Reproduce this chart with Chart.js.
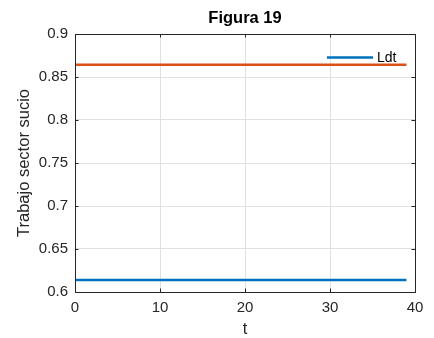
<!DOCTYPE html>
<html>
<head>
<meta charset="utf-8">
<title>Figura 19</title>
<script src="https://cdn.jsdelivr.net/npm/chart.js@4.4.1/dist/chart.umd.min.js"></script>
<style>
  html, body { margin: 0; padding: 0; background: #ffffff; }
  #wrap { width: 434px; height: 338px; }
</style>
</head>
<body>
<div id="wrap"><canvas id="fig" width="434" height="338"></canvas></div>
<script>
// Time steps
const t = [0, 1, 2, 3, 4, 5, 6, 7, 8, 9, 10, 11, 12, 13, 14, 15, 16, 17, 18, 19,
           20, 21, 22, 23, 24, 25, 26, 27, 28, 29, 30, 31, 32, 33, 34, 35, 36, 37, 38, 39];

// Labour in the dirty sector (Ldt)
const ldt = [0.614, 0.614, 0.614, 0.614, 0.614, 0.614, 0.614, 0.614, 0.614, 0.614,
             0.614, 0.614, 0.614, 0.614, 0.614, 0.614, 0.614, 0.614, 0.614, 0.614,
             0.614, 0.614, 0.614, 0.614, 0.614, 0.614, 0.614, 0.614, 0.614, 0.614,
             0.614, 0.614, 0.614, 0.614, 0.614, 0.614, 0.614, 0.614, 0.614, 0.614];

// Second series (no legend entry)
const serie2 = [0.8643, 0.8643, 0.8643, 0.8643, 0.8643, 0.8643, 0.8643, 0.8643, 0.8643, 0.8643,
                0.8643, 0.8643, 0.8643, 0.8643, 0.8643, 0.8643, 0.8643, 0.8643, 0.8643, 0.8643,
                0.8643, 0.8643, 0.8643, 0.8643, 0.8643, 0.8643, 0.8643, 0.8643, 0.8643, 0.8643,
                0.8643, 0.8643, 0.8643, 0.8643, 0.8643, 0.8643, 0.8643, 0.8643, 0.8643, 0.8643];

// Axis ticks
const xTicks = [0, 10, 20, 30, 40];
const yTicks = [0.6, 0.65, 0.7, 0.75, 0.8, 0.85, 0.9];

const FONT = "'Liberation Sans', Arial, Helvetica, sans-serif";
const AXIS_COLOR = '#262626';
const GRID_COLOR = '#e0e0e0';
const BLUE = '#0072BD';
const ORANGE = '#D95319';

const toPoints = (xs, ys) => xs.map((x, i) => ({ x: x, y: ys[i] }));

// Box around the axes, inward tick marks and the in-axes legend
const axesBox = {
  id: 'axesBox',
  afterDatasetsDraw(chart) {
    const { ctx, chartArea: a, scales } = chart;
    const tl = 3.5;
    ctx.save();
    ctx.strokeStyle = AXIS_COLOR;
    ctx.lineWidth = 1;
    ctx.beginPath();
    xTicks.forEach(v => {
      const px = Math.round(scales.x.getPixelForValue(v)) + 0.5;
      ctx.moveTo(px, a.bottom); ctx.lineTo(px, a.bottom - tl);
      ctx.moveTo(px, a.top); ctx.lineTo(px, a.top + tl);
    });
    yTicks.forEach(v => {
      const py = Math.round(scales.y.getPixelForValue(v)) + 0.5;
      ctx.moveTo(a.left, py); ctx.lineTo(a.left + tl, py);
      ctx.moveTo(a.right, py); ctx.lineTo(a.right - tl, py);
    });
    ctx.stroke();
    ctx.strokeRect(Math.round(a.left) + 0.5, Math.round(a.top) + 0.5,
                   Math.round(a.right - a.left), Math.round(a.bottom - a.top));

    // legend (first series only)
    const ds = chart.data.datasets[0];
    const ly = a.top + 23.5;
    const lx0 = a.right - 88;
    const lx1 = a.right - 42;
    ctx.strokeStyle = ds.borderColor;
    ctx.lineWidth = ds.borderWidth;
    ctx.beginPath();
    ctx.moveTo(lx0, ly); ctx.lineTo(lx1, ly);
    ctx.stroke();
    ctx.fillStyle = '#000000';
    ctx.font = '14px ' + FONT;
    ctx.textAlign = 'left';
    ctx.textBaseline = 'middle';
    ctx.fillText(ds.label, lx1 + 4, ly + 0.5);
    ctx.restore();
  }
};

new Chart(document.getElementById('fig'), {
  type: 'line',
  data: {
    datasets: [
      {
        label: 'Ldt',
        data: toPoints(t, ldt),
        borderColor: BLUE,
        borderWidth: 2.6,
        pointRadius: 0,
        fill: false,
        tension: 0
      },
      {
        label: 'serie2',
        data: toPoints(t, serie2),
        borderColor: ORANGE,
        borderWidth: 2.6,
        pointRadius: 0,
        fill: false,
        tension: 0
      }
    ]
  },
  options: {
    responsive: false,
    devicePixelRatio: 1,
    animation: false,
    events: [],
    layout: { padding: { left: 0, right: 19, top: 0, bottom: 0 } },
    plugins: {
      legend: { display: false },
      tooltip: { enabled: false },
      title: {
        display: true,
        text: 'Figura 19',
        fullSize: false,
        color: '#000000',
        font: { family: FONT, size: 16.5, weight: 'bold', lineHeight: 1.2 },
        padding: { top: 9, bottom: 5.2 }
      }
    },
    scales: {
      x: {
        type: 'linear',
        min: 0,
        max: 40,
        afterBuildTicks(scale) { scale.ticks = xTicks.map(v => ({ value: v })); },
        afterFit(scale) { scale.height = 46; },
        grid: { color: GRID_COLOR, drawTicks: false },
        border: { display: false },
        ticks: {
          color: AXIS_COLOR,
          font: { family: FONT, size: 15 },
          padding: 7,
          maxRotation: 0,
          callback: v => String(v)
        },
        title: {
          display: true,
          text: 't',
          color: AXIS_COLOR,
          font: { family: FONT, size: 16.5, lineHeight: 1 },
          padding: { top: 0, bottom: 0 }
        }
      },
      y: {
        type: 'linear',
        min: 0.6,
        max: 0.9,
        afterBuildTicks(scale) { scale.ticks = yTicks.map(v => ({ value: v })); },
        afterFit(scale) { scale.width = 75; },
        grid: { color: GRID_COLOR, drawTicks: false },
        border: { display: false },
        ticks: {
          color: AXIS_COLOR,
          font: { family: FONT, size: 15 },
          padding: 7,
          callback: v => String(+Number(v).toFixed(2))
        },
        title: {
          display: true,
          text: 'Trabajo sector sucio',
          color: AXIS_COLOR,
          font: { family: FONT, size: 16.5, lineHeight: 1.2 },
          padding: { top: 15, bottom: 0 }
        }
      }
    }
  },
  plugins: [axesBox]
});
</script>
</body>
</html>
